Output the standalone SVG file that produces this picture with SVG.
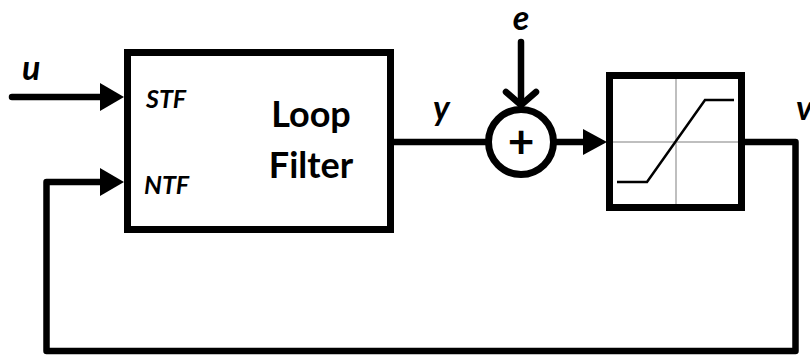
<svg xmlns="http://www.w3.org/2000/svg" width="810" height="355" viewBox="0 0 810 355">
<style>
.box{fill:#fff;stroke:#000;stroke-width:7}
.wire{fill:none;stroke:#000;stroke-width:6.5;stroke-linejoin:round;stroke-linecap:round}
.head{fill:#000}
.lbl{font-family:Lato,"Open Sans",sans-serif;font-weight:bold;font-style:italic;fill:#000}
.big{font-family:Lato,"Open Sans",sans-serif;font-weight:bold;fill:#000;font-size:36px;text-anchor:middle}
.grid{stroke:#aaa;stroke-width:1.5}
</style>
<rect width="810" height="355" fill="#fff"/>
<g id="connectors">
<path class="wire" d="M12,97 H102"/>
<polygon class="head" points="100,83 124,97 100,111"/>
<path class="wire" d="M745,142 H795.5 V351 H46.5 V182 H102"/>
<polygon class="head" points="100,168 124,182 100,196"/>
<path class="wire" d="M394,142 H488"/>
<path class="wire" d="M554,142 H585"/>
<polygon class="head" points="583,129 607,142 583,155"/>
<path class="wire" d="M521,42 V104"/>
<path class="wire" d="M506,92 L521,105 L536,92"/>
</g>
<g id="loopfilter">
<rect class="box" x="127.5" y="52.5" width="263" height="177"/>
<text class="lbl" x="146" y="108" font-size="25">STF</text>
<text class="lbl" x="144" y="194" font-size="25">NTF</text>
<text class="big" x="311" y="127">Loop</text>
<text class="big" x="311" y="178">Filter</text>
</g>
<g id="sum">
<circle cx="521" cy="142" r="32.5" fill="#fff" stroke="#000" stroke-width="7"/>
<text x="521" y="158" font-family="Lato,'Open Sans',sans-serif" font-weight="bold" font-size="46" text-anchor="middle">+</text>
</g>
<g id="quantizer">
<rect class="box" x="609.5" y="75.5" width="132" height="132"/>
<line class="grid" x1="676" y1="79" x2="676" y2="204"/>
<line class="grid" x1="613" y1="142" x2="738" y2="142"/>
<polyline points="617,182 647,182 705,100 734,100" fill="none" stroke="#000" stroke-width="2.5"/>
</g>
<g id="labels">
<text class="lbl" x="22" y="80" font-size="34">u</text>
<text class="lbl" x="433" y="120" font-size="34">y</text>
<text class="lbl" x="521" y="30" font-size="34" text-anchor="middle">e</text>
<text class="lbl" x="796" y="120" font-size="34">v</text>
</g>
</svg>
